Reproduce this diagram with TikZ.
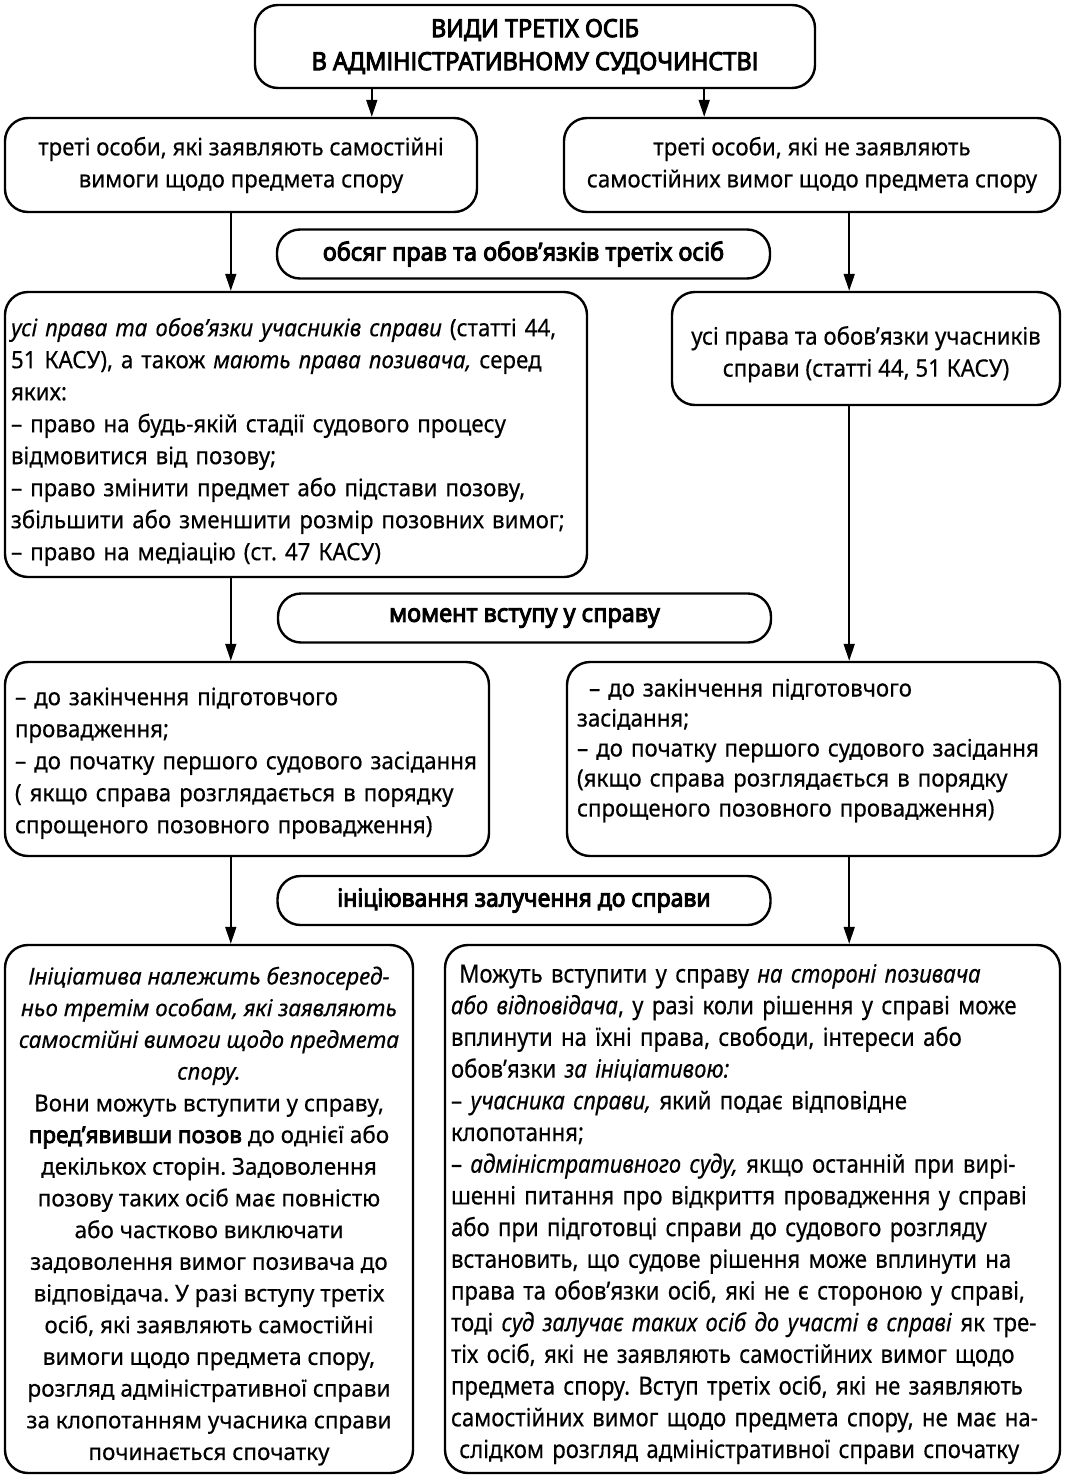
\documentclass[tikz,border=0pt]{standalone}
\usepackage{fontspec}
\setmainfont{Noto Sans}[FakeStretch=0.93, FakeBold=0.4]
\newfontfamily\widefont{Noto Sans}[FakeStretch=0.97, FakeBold=0.4]
\newfontfamily\widebold{Noto Sans}[FakeStretch=0.97, FakeBold=3.2]
\newfontfamily\midfont{Noto Sans}[FakeStretch=0.887, FakeBold=0.4]
\newfontfamily\lblfont{Noto Sans}[FakeStretch=0.94, FakeBold=3.6]
\newfontfamily\inifont{Noto Sans}[FakeStretch=0.92, FakeBold=3.6]
\usetikzlibrary{arrows.meta}
\newcommand\rows[1]{\begin{tabular}{@{}l@{}}#1\end{tabular}}
\frenchspacing
\begin{document}
\frenchspacing
\begin{tikzpicture}[x=1pt,y=-1pt,
  box/.style={draw=black, line width=2.4pt, rounded corners=23pt, inner sep=0pt},
  arr/.style={line width=1.8pt, -{Triangle[length=17pt,width=11pt]}},
  body/.style={font=\fontsize{24}{32}\selectfont},
  lbl/.style={box, minimum width=493pt, minimum height=49pt, font=\lblfont\fontsize{25}{30}\selectfont}]
\useasboundingbox (0,0) rectangle (1065,1475);

\node[box, minimum width=560pt, minimum height=83pt, align=center,
      font=\lblfont\fontsize{25}{33}\selectfont] (title) at (535,46.5)
  {ВИДИ ТРЕТІХ ОСІБ\\В АДМІНІСТРАТИВНОМУ СУДОЧИНСТВІ};

\node[box, body, minimum width=472pt, minimum height=94pt, align=center] (a1) at (241,165)
  {треті особи, які заявляють самостійні\\вимоги щодо предмета спору};
\node[box, body, minimum width=496pt, minimum height=94pt, align=center] (b1) at (812,165)
  {треті особи, які не заявляють\\самостійних вимог щодо предмета спору};

\node[lbl] (l1) at (523.5,254) {обсяг прав та обов’язків третіх осіб};

\node[box, body, minimum width=582pt, minimum height=285pt, text width=570pt, align=left] (a2) at (296,434.5)
  {\rows{\rule{0pt}{37pt}\textit{усі права та обов’язки учасників справи} (статті 44,\\
   51 КАСУ), а також \textit{мають права позивача,} серед\\
   яких:\\
   – право на будь-якій стадії судового процесу\\
   відмовитися від позову;\\
   – право змінити предмет або підстави позову,\\
   збільшити або зменшити розмір позовних вимог;\\
   – право на медіацію (ст. 47 КАСУ)}};
\node[box, body, minimum width=388pt, minimum height=113pt, align=center] (b2) at (866,348.5)
  {\rule{0pt}{30pt}усі права та обов’язки учасників\\справи (статті 44, 51 КАСУ)};

\node[lbl] (l2) at (524.5,618) {момент вступу у справу};

\node[box, body, minimum width=484pt, minimum height=194pt, text width=464pt, align=left] (a3) at (247,759)
  {\rows{\rule{0pt}{30pt}– до закінчення підготовчого\\
   провадження;\\
   – до початку першого судового засідання\\
   ( якщо справа розглядається в порядку\\
   спрощеного позовного провадження)}};
\node[box, minimum width=493pt, minimum height=194pt, text width=473pt, align=left,
      font=\fontsize{24}{30}\selectfont] (b3) at (813.5,759)
  {\rows{\hspace*{12pt}– до закінчення підготовчого\\
   засідання;\\
   – до початку першого судового засідання\\
   (якщо справа розглядається в порядку\\
   спрощеного позовного провадження)\rule[-26pt]{0pt}{0pt}}};

\node[lbl, font=\inifont\fontsize{25}{30}\selectfont] (l3) at (524,900.5) {ініціювання залучення до справи};

\node[box, minimum width=408pt, minimum height=528pt, align=center,
      font=\widefont\fontsize{23.2}{31.7}\selectfont] (a4) at (209,1209)
  {\rule{0pt}{32pt}\textit{Ініціатива належить безпосеред-}\\
   \textit{ньо третім особам, які заявляють}\\
   \textit{самостійні вимоги щодо предмета}\\
   \textit{спору.}\\
   Вони можуть вступити у справу,\\
   {\widebold пред’явивши позов} до однієї або\\
   декількох сторін. Задоволення\\
   позову таких осіб має повністю\\
   або частково виключати\\
   задоволення вимог позивача до\\
   відповідача. У разі вступу третіх\\
   осіб, які заявляють самостійні\\
   вимоги щодо предмета спору,\\
   розгляд адміністративної справи\\
   за клопотанням учасника справи\\
   починається спочатку};
\node[box, minimum width=615pt, minimum height=528pt, text width=603pt, align=left,
      font=\midfont\fontsize{25}{31.7}\selectfont] (b4) at (752.5,1209)
  {\rows{\rule{0pt}{32pt}\ Можуть вступити у справу \textit{на стороні позивача}\\
   \textit{або відповідача}, у разі коли рішення у справі може\\
   вплинути на їхні права, свободи, інтереси або\\
   обов’язки \textit{за ініціативою:}\\
   – \textit{учасника справи,} який подає відповідне\\
   клопотання;\\
   – \textit{адміністративного суду,} якщо останній при вирі-\\
   шенні питання про відкриття провадження у справі\\
   або при підготовці справи до судового розгляду\\
   встановить, що судове рішення може вплинути на\\
   права та обов’язки осіб, які не є стороною у справі,\\
   тоді \textit{суд залучає таких осіб до участі в справі} як тре-\\
   тіх осіб, які не заявляють самостійних вимог щодо\\
   предмета спору. Вступ третіх осіб, які не заявляють\\
   самостійних вимог щодо предмета спору, не має на-\\
   \ слідком розгляд адміністративної справи спочатку}};

% arrows
\draw[arr] ([xshift=118pt]title.south west) -- ([xshift=118pt]title.south west |- a1.north);
\draw[arr] ([xshift=-112pt]title.south east) -- ([xshift=-112pt]title.south east |- b1.north);
\draw[arr] ([xshift=227pt]a1.south west) -- ([xshift=227pt]a1.south west |- a2.north);
\draw[arr] ([xshift=-212pt]b1.south east) -- ([xshift=-212pt]b1.south east |- b2.north);
\draw[arr] ([xshift=227pt]a2.south west) -- ([xshift=227pt]a2.south west |- a3.north);
\draw[arr] ([xshift=-212pt]b2.south east) -- ([xshift=-212pt]b2.south east |- b3.north);
\draw[arr] ([xshift=227pt]a3.south west) -- ([xshift=227pt]a3.south west |- a4.north);
\draw[arr] ([xshift=-212pt]b3.south east) -- ([xshift=-212pt]b3.south east |- b4.north);
\end{tikzpicture}
\end{document}
